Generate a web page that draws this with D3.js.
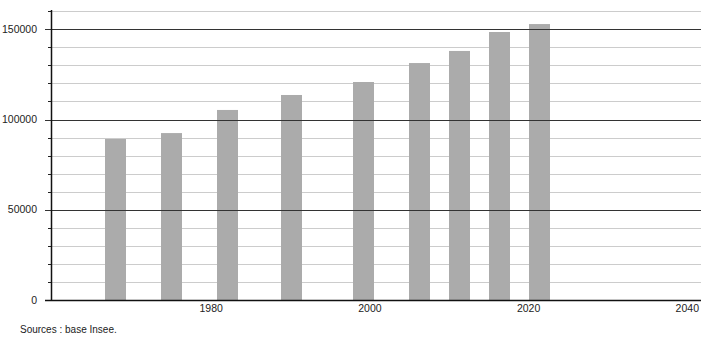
<!DOCTYPE html>
<html><head><meta charset="utf-8">
<script src="https://cdn.jsdelivr.net/npm/d3@7"></script>
<style>
body{margin:0;background:#fff;}
svg{display:block;font-family:"Liberation Sans",Arial,sans-serif;}
</style></head>
<body><svg id="c" width="710" height="340"></svg>
<script>
const years = [1968, 1975, 1982, 1990, 1999, 2006, 2011, 2016, 2021];
const population = [89200, 92500, 105300, 113600, 120800, 131300, 138000, 148500, 152900];
const yTicks = [0, 50000, 100000, 150000];
const xTicks = [1980, 2000, 2020, 2040];
const source = "Sources : base Insee.";

(function () {
const svg = d3.select("#c");
const plotLeft = 51, plotRight = 701, plotBottom = 300, plotTop = 11.25;
const xBar = d3.scaleLinear().domain([1960, 2040]).range([51.5, 691.5]);
const xAxis = d3.scaleLinear().domain([1980, 2040]).range([211.2, 687.3]);
const y = d3.scaleLinear().domain([0, 160000]).range([plotBottom, plotTop]);

// minor gridlines
const minor = d3.range(10000, 160001, 10000).filter(v => v % 50000 !== 0);
svg.append("g").selectAll("line").data(minor).join("line")
  .attr("x1", plotLeft).attr("x2", plotRight)
  .attr("y1", d => Math.round(y(d)) + 0.5).attr("y2", d => Math.round(y(d)) + 0.5)
  .attr("stroke", "#cccccc").attr("stroke-width", 1);
// minor ticks
svg.append("g").selectAll("line").data(minor).join("line")
  .attr("x1", plotLeft - 3).attr("x2", plotLeft)
  .attr("y1", d => Math.round(y(d)) + 0.5).attr("y2", d => Math.round(y(d)) + 0.5)
  .attr("stroke", "#222").attr("stroke-width", 1);

// bars
svg.append("g").selectAll("rect").data(years).join("rect")
  .attr("x", (d) => xBar(d) - 10.5).attr("width", 21)
  .attr("y", (d, i) => y(population[i])).attr("height", (d, i) => plotBottom - y(population[i]))
  .attr("fill", "#ababab");

// major gridlines
svg.append("g").selectAll("line").data(yTicks.filter(v => v > 0)).join("line")
  .attr("x1", plotLeft - 6).attr("x2", plotRight)
  .attr("y1", d => Math.round(y(d)) + 0.5).attr("y2", d => Math.round(y(d)) + 0.5)
  .attr("stroke", "#333").attr("stroke-width", 1);

// axes lines
svg.append("line").attr("x1", plotLeft + 0.5).attr("x2", plotLeft + 0.5).attr("y1", 10).attr("y2", plotBottom + 0.5)
  .attr("stroke", "#111").attr("stroke-width", 1.5);
svg.append("line").attr("x1", plotLeft - 6).attr("x2", plotRight).attr("y1", plotBottom + 0.5).attr("y2", plotBottom + 0.5)
  .attr("stroke", "#111").attr("stroke-width", 1.5);

// y labels
svg.append("g").selectAll("text").data(yTicks).join("text")
  .attr("x", 37).attr("y", d => y(d)).attr("dy", "0.35em")
  .attr("text-anchor", "end").attr("font-size", 10.5).attr("fill", "#222")
  .text(d => d);

// x labels
svg.append("g").selectAll("text").data(xTicks).join("text")
  .attr("x", d => xAxis(d)).attr("y", 312)
  .attr("text-anchor", "middle").attr("font-size", 10.5).attr("fill", "#222")
  .text(d => d);

svg.append("text").attr("x", 20).attr("y", 333).attr("font-size", 10).attr("fill", "#222").text(source);
})();
</script></body></html>
